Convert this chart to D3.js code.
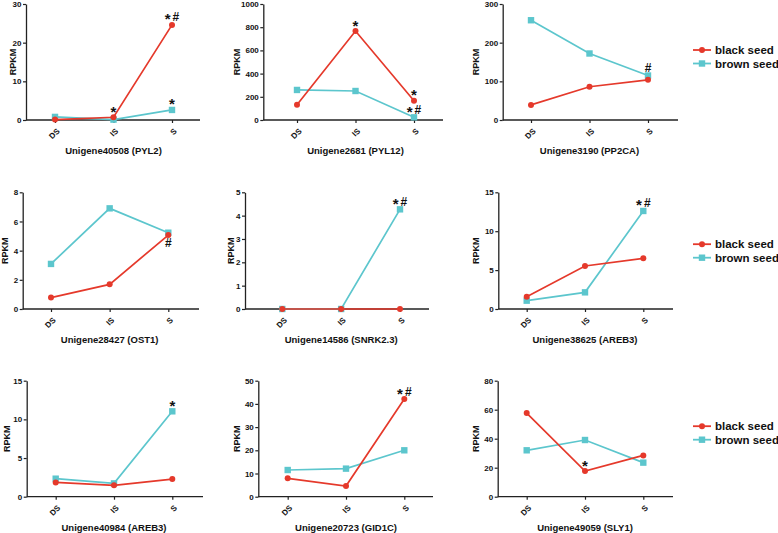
<!DOCTYPE html>
<html><head><meta charset="utf-8">
<script src="https://cdn.jsdelivr.net/npm/d3@7"></script>
<style>
body{margin:0;background:#fff}
svg{display:block}
text{font-family:"Liberation Sans",Arial,Helvetica,sans-serif;font-weight:bold;fill:#111}
</style>
</head><body>
<svg id="c" width="778" height="533"></svg>
<script>
// ---------- data ----------
const categories = ["DS", "IS", "S"];
const seriesNames = ["black seed", "brown seed"];
const genes = ["Unigene40508 (PYL2)", "Unigene2681 (PYL12)", "Unigene3190 (PP2CA)",
  "Unigene28427 (OST1)", "Unigene14586 (SNRK2.3)", "Unigene38625 (AREB3)",
  "Unigene40984 (AREB3)", "Unigene20723 (GID1C)", "Unigene49059 (SLY1)"];
const blackSeed = [[0.1, 0.7, 24.6], [132, 767, 166], [39, 86, 104],
  [0.78, 1.69, 5.07], [0, 0, 0], [1.59, 5.53, 6.51],
  [1.85, 1.47, 2.28], [7.9, 4.6, 42.1], [57.7, 17.7, 28.5]];
const brownSeed = [[0.8, 0.1, 2.6], [259, 250, 23], [258, 172, 115],
  [3.09, 6.9, 5.23], [0, 0, 4.27], [1.07, 2.14, 12.6],
  [2.33, 1.72, 11.04], [11.5, 12.1, 20.0], [32.0, 39.1, 23.5]];
const yTicks = [[0, 10, 20, 30], [0, 200, 400, 600, 800, 1000], [0, 100, 200, 300],
  [0, 2, 4, 6, 8], [0, 1, 2, 3, 4, 5], [0, 5, 10, 15],
  [0, 5, 10, 15], [0, 10, 20, 30, 40, 50], [0, 20, 40, 60, 80]];
// significance marks: [series index, category index, text, below?]
const signif = [
  [[0, 1, "*"], [0, 2, "*#"], [1, 2, "*"]],
  [[0, 1, "*"], [0, 2, "*"], [1, 2, "*#"]],
  [[1, 2, "#"]],
  [[0, 2, "#", true]],
  [[1, 2, "*#"]],
  [[1, 2, "*#"]],
  [[1, 2, "*"]],
  [[0, 2, "*#"]],
  [[0, 1, "*"]]
];

// ---------- layout ----------
const cols = [
  [{ax: 26, end: 200, x0: 55, x1: 172, lab: 12.5}, {ax: 263.3, end: 443, x0: 297, x1: 414, lab: 236.7}, {ax: 502.7, end: 678, x0: 531, x1: 648, lab: 475.8}],
  [{ax: 22.7, end: 199, x0: 51, x1: 168.3, lab: 5}, {ax: 245, end: 429, x0: 282.3, x1: 400, lab: 231}, {ax: 498.3, end: 673, x0: 526.7, x1: 643.3, lab: 475.8}],
  [{ax: 26.7, end: 203, x0: 55.7, x1: 172.3, lab: 6.7}, {ax: 258.3, end: 433, x0: 287.7, x1: 404.3, lab: 236.7}, {ax: 497.7, end: 673, x0: 526.7, x1: 643.3, lab: 475.5}]
];
const rows = [{top: 4, bot: 120, leg: 50}, {top: 192.3, bot: 309, leg: 244.2}, {top: 380.7, bot: 496.7, leg: 426.2}];
const colors = ["#e5392b", "#5cc6cd"];
const axisColor = "#222";

const svg = d3.select("#c");

function marker(g, si, x, y) {
  if (si === 0) {
    g.append("circle").attr("cx", x).attr("cy", y).attr("r", 3).attr("fill", colors[0]);
  } else {
    g.append("rect").attr("x", x - 3.2).attr("y", y - 3.2).attr("width", 6.4).attr("height", 6.4).attr("fill", colors[1]);
  }
}

genes.forEach((gene, i) => {
  const r = Math.floor(i / 3), c = i % 3;
  const L = cols[r][c], R = rows[r];
  const g = svg.append("g");
  const yMax = d3.max(yTicks[i]);
  const x = d3.scalePoint().domain(categories).range([L.x0, L.x1]);
  const y = d3.scaleLinear().domain([0, yMax]).range([R.bot, R.top]);

  // y axis
  const ya = g.append("g").attr("transform", `translate(${L.ax},0)`)
    .call(d3.axisLeft(y).tickValues(yTicks[i]).tickFormat(d => String(d)).tickSize(3).tickSizeOuter(0).tickPadding(1.5));
  ya.select(".domain").attr("stroke", axisColor).attr("stroke-width", 1.3);
  ya.selectAll(".tick line").attr("stroke", axisColor).attr("stroke-width", 1.2);
  ya.selectAll(".tick text").attr("font-size", 8).attr("font-family", "Liberation Sans, Arial, sans-serif").attr("font-weight", "bold").attr("fill", "#111");

  // x axis
  const xa = g.append("g").attr("transform", `translate(0,${R.bot})`)
    .call(d3.axisBottom(x).tickSize(3).tickSizeOuter(0));
  xa.select(".domain").remove();
  xa.append("line").attr("x1", L.ax).attr("x2", L.end).attr("y1", 0).attr("y2", 0)
    .attr("stroke", axisColor).attr("stroke-width", 1.3);
  xa.selectAll(".tick line").attr("stroke", axisColor).attr("stroke-width", 1.2);
  xa.selectAll(".tick text").attr("font-size", 8).attr("font-family", "Liberation Sans, Arial, sans-serif").attr("font-weight", "bold").attr("fill", "#111")
    .attr("text-anchor", "end").attr("dy", "0.3em").attr("y", 0)
    .attr("transform", "translate(3,10) rotate(-45)");

  // y label
  g.append("text").attr("transform", `translate(${L.lab + 3.2},${(R.top + R.bot) / 2}) rotate(-90)`)
    .attr("text-anchor", "middle").attr("font-size", 9).text("RPKM");

  // title
  g.append("text").attr("x", x("IS")).attr("y", R.bot + 34).attr("text-anchor", "middle")
    .attr("font-size", 9.5).text(gene);

  // series (brown first, black on top)
  const series = [blackSeed[i], brownSeed[i]];
  const line = d3.line().x((d, k) => x(categories[k])).y(d => y(d));
  [1, 0].forEach(si => {
    g.append("path").datum(series[si]).attr("d", line).attr("fill", "none")
      .attr("stroke", colors[si]).attr("stroke-width", 1.7);
    series[si].forEach((v, k) => marker(g, si, x(categories[k]), y(v)));
  });

  // significance
  signif[i].forEach(([si, k, t, below]) => {
    const px = x(categories[k]), py = y(series[si][k]);
    const tx = g.append("text").attr("x", px).attr("y", below ? py + 12 : py - 3.5)
      .attr("text-anchor", "middle");
    t.split("").forEach((ch, j) => {
      const ts = tx.append("tspan").text(ch);
      if (ch === "*") {
        ts.attr("font-size", 15).attr("dy", 3);
      } else {
        ts.attr("font-size", 12).attr("dx", j > 0 ? 2 : 0).attr("dy", j > 0 ? -3 : 0);
      }
    });
  });

  // legend on right column
  if (c === 2) {
    seriesNames.forEach((nm, si) => {
      const ly = R.leg + si * 13.5;
      const lg = svg.append("g");
      lg.append("line").attr("x1", 693).attr("x2", 711).attr("y1", ly).attr("y2", ly)
        .attr("stroke", colors[si]).attr("stroke-width", 1.8);
      marker(lg, si, 702, ly);
      lg.append("text").attr("x", 715).attr("y", ly + 4.2).attr("font-size", 11.5).text(nm);
    });
  }
});
</script>
</body></html>
